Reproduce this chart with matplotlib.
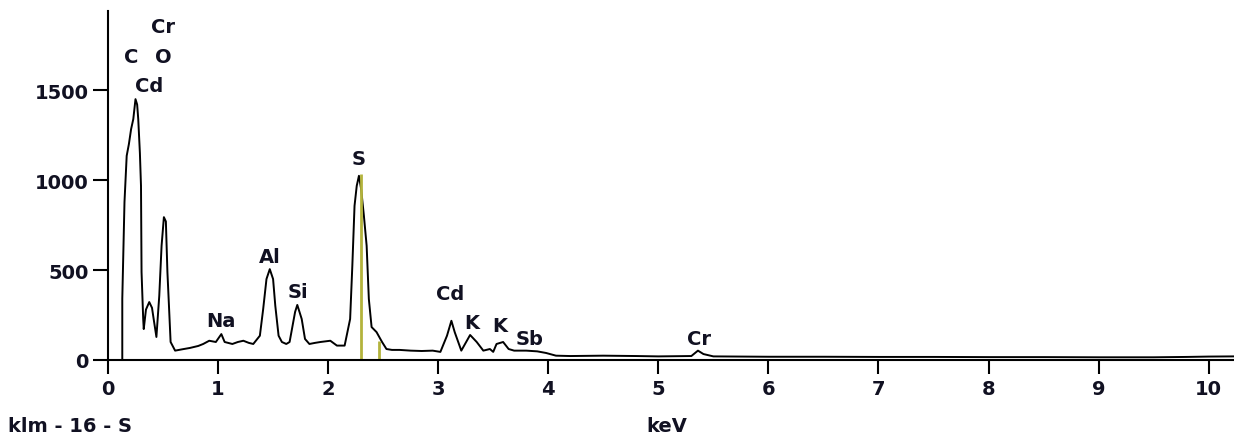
import numpy as np
import matplotlib
matplotlib.use("Agg")
import matplotlib.pyplot as plt

# spectrum trace (keV, counts)
kev = [0.00, 0.13, 0.13, 0.15, 0.17, 0.19, 0.21, 0.23, 0.25, 0.265, 0.275, 0.29,
       0.30, 0.305, 0.32, 0.325, 0.345, 0.375, 0.40, 0.415, 0.44, 0.466, 0.487,
       0.508, 0.526, 0.54, 0.554, 0.569, 0.61, 0.68, 0.745, 0.82, 0.865, 0.92,
       0.98, 1.03, 1.06, 1.13, 1.18, 1.23, 1.28, 1.32, 1.38, 1.41, 1.44, 1.47,
       1.50, 1.52, 1.55, 1.58, 1.62, 1.65, 1.70, 1.72, 1.76, 1.79, 1.83, 1.88,
       1.93, 2.02, 2.08, 2.15, 2.20, 2.22, 2.24, 2.26, 2.28, 2.30, 2.325, 2.35,
       2.37, 2.395, 2.44, 2.49, 2.53, 2.58, 2.65, 2.75, 2.85, 2.95, 3.02, 3.08,
       3.12, 3.15, 3.21, 3.29, 3.35, 3.41, 3.47, 3.50, 3.53, 3.59, 3.64, 3.69,
       3.80, 3.90, 3.98, 4.07, 4.2, 4.5, 4.8, 5.0, 5.3, 5.36, 5.41, 5.5, 6.0,
       6.5, 7.0, 7.5, 8.0, 8.5, 9.0, 9.5, 9.8, 10.0, 10.23]
counts = [0, 0, 340, 878, 1135, 1200, 1283, 1339, 1450, 1420, 1339, 1150,
          968, 489, 228, 172, 280, 322, 290, 228, 128, 357, 635,
          794, 770, 489, 302, 100, 52, 60, 67, 78, 89, 107,
          100, 144, 100, 89, 100, 107, 95, 89, 135, 283, 450, 505,
          450, 302, 135, 100, 89, 100, 267, 306, 228, 117, 89, 95,
          100, 107, 80, 80, 228, 524, 857, 968, 1024, 950, 802, 635,
          339, 183, 155, 100, 61, 56, 56, 52, 50, 52, 45, 135,
          218, 155, 52, 139, 100, 52, 61, 45, 89, 100, 61, 52,
          52, 48, 39, 24, 22, 24, 22, 20, 22, 52, 33, 20, 18,
          18, 17, 17, 16, 16, 15, 15, 17, 19, 20]

# marker lines (keV, height)
marker_kev = [2.295, 2.46]
marker_h = [1033, 107]

# peak labels
lbl_text = ["C", "Cr", "O", "Cd", "S", "Al", "Si", "Na", "Cd", "K", "K", "Sb", "Cr"]
lbl_x = [0.21, 0.50, 0.50, 0.37, 2.28, 1.47, 1.726, 1.026, 3.107, 3.307, 3.56, 3.83, 5.368]
lbl_y = [1689, 1856, 1689, 1528, 1122, 578, 378, 222, 372, 211, 189, 117, 117]

txt_col = "#111122"
fs = 14
plt.rcParams['font.family'] = 'DejaVu Sans'
plt.rcParams['font.weight'] = 'bold'

fig = plt.figure(figsize=(12.34, 4.39), dpi=100)
ax = fig.add_axes([0.0875, 0.1777, 0.9125, 0.795])

ax.plot(kev, counts, color="black", lw=1.4)
ax.vlines(marker_kev, 0, marker_h, color="#b3b33c", lw=2)

for t, x, y in zip(lbl_text, lbl_x, lbl_y):
    ax.text(x, y, t, ha="center", va="center", fontsize=fs,
            fontweight="bold", color=txt_col)

ax.set_xlim(0, 10.23)
ax.set_ylim(0, 1940)
ax.set_xticks(range(0, 11))
ax.set_yticks([0, 500, 1000, 1500])
ax.tick_params(axis="both", direction="out", width=1.5, colors="black",
               labelsize=fs, labelcolor=txt_col)
ax.tick_params(axis="y", length=11, pad=3)
ax.tick_params(axis="x", length=10, pad=4)
for lab in ax.get_xticklabels() + ax.get_yticklabels():
    lab.set_fontweight("bold")

for s in ["top", "right"]:
    ax.spines[s].set_visible(False)
ax.spines["left"].set_linewidth(1.5)
ax.spines["bottom"].set_linewidth(1.5)

fig.text(8 / 1234, 1 - 427 / 439, "klm - 16 - S", ha="left", va="center",
         fontsize=fs, fontweight="bold", color=txt_col)
fig.text(667 / 1234, 1 - 427 / 439, "keV", ha="center", va="center",
         fontsize=fs, fontweight="bold", color=txt_col)

fig.savefig("out.png", dpi=100)
plt.close()
